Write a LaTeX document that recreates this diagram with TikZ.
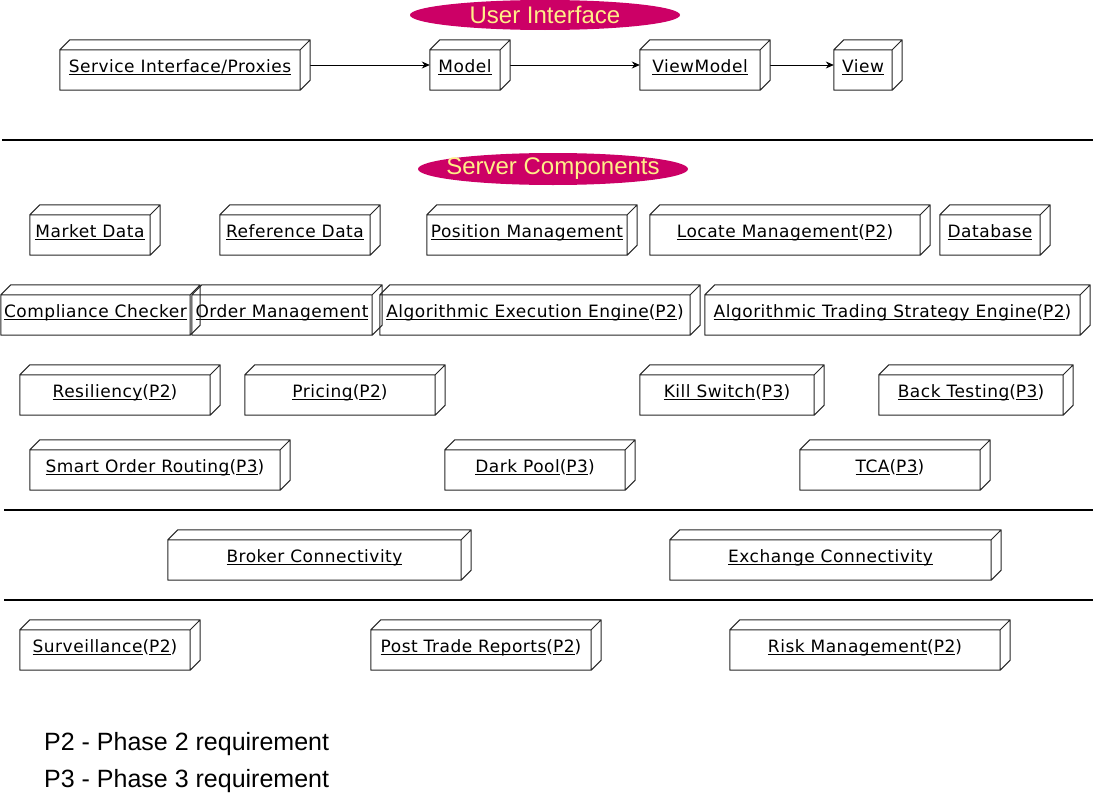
\documentclass[tikz,border=0pt]{standalone}
\usepackage{fontspec}
\setmainfont{Liberation Sans}
\newfontfamily\boxfont[LetterSpace=3]{DejaVu Sans}
\usepackage{tikz}
\usetikzlibrary{calc,shapes.geometric,arrows.meta}
\definecolor{ovalfill}{HTML}{CC0066}
\definecolor{ovaltext}{HTML}{FFEE88}
\newcommand\ulbox[1]{\setbox0=\hbox{#1}\rlap{\rule[-2.6pt]{\wd0}{0.9pt}}\box0}
\newcommand\tagged[2]{\ulbox{#1}(\ulbox{#2})}

\begin{document}
\begin{tikzpicture}[x=1pt,y=-1pt,
    unode/.style={minimum width=#1,minimum height=50,inner sep=0,
      text height=18,text depth=3,execute at end node=\hspace*{10pt},
      font=\boxfont\fontsize{17}{20}\selectfont},
    oval/.style={ellipse,fill=ovalfill,text=ovaltext,minimum width=270,
      minimum height=30,inner sep=0,font=\fontsize{24}{26}\selectfont},
    sep/.style={line width=2.5pt},
    legend/.style={anchor=west,inner sep=0,font=\fontsize{25}{27}\selectfont},
    flow/.style={-{Stealth[length=8pt,width=7pt]},line width=0.8pt}]
  \useasboundingbox (0,0) rectangle (1096,795);

  \node[oval] (ui) at (545,15) {User Interface};
  \node[unode=250] (sip) at (185,65) {\ulbox{Service Interface/Proxies}};
  \node[unode=80] (model) at (470,65) {\ulbox{Model}};
  \node[unode=130] (vm) at (705,65) {\ulbox{ViewModel}};
  \node[unode=68] (view) at (868,65) {\ulbox{View}};
  \draw[flow] (sip.east) -- (model.west);
  \draw[flow] (model.east) -- (vm.west);
  \draw[flow] (vm.east) -- (view.west);

  \draw[sep] (2,140) -- (1093,140);
  \node[oval,inner xsep=-12pt,minimum height=32] (srv) at (553,169) {Server Components};

  \node[unode=130] (mkt) at (95,230) {\ulbox{Market Data}};
  \node[unode=160] (ref) at (300,230) {\ulbox{Reference Data}};
  \node[unode=210] (pos) at (532,230) {\ulbox{Position Management}};
  \node[unode=280] (loc) at (790,230) {\tagged{Locate Management}{P2}};
  \node[unode=110] (db) at (995,230) {\ulbox{Database}};

  \node[unode=199] (comp) at (100.5,310) {\ulbox{Compliance Checker}};
  \node[unode=190] (oms) at (287,310) {\ulbox{Order Management}};
  \node[unode=320] (aee) at (540,310) {\tagged{Algorithmic Execution Engine}{P2}};
  \node[unode=385] (ate) at (897.5,310) {\tagged{Algorithmic Trading Strategy Engine}{P2}};

  \node[unode=200] (res) at (120,390) {\tagged{Resiliency}{P2}};
  \node[unode=200] (pric) at (345,390) {\tagged{Pricing}{P2}};
  \node[unode=184] (kill) at (732,390) {\tagged{Kill Switch}{P3}};
  \node[unode=194] (bt) at (976,390) {\tagged{Back Testing}{P3}};

  \node[unode=260] (sor) at (160,465) {\tagged{Smart Order Routing}{P3}};
  \node[unode=190] (dark) at (540,465) {\tagged{Dark Pool}{P3}};
  \node[unode=190] (tca) at (895,465) {\tagged{TCA}{P3}};

  \draw[sep] (4,510) -- (1093,510);
  \node[unode=303] (broker) at (319.5,555) {\ulbox{Broker Connectivity}};
  \node[unode=331] (exch) at (835.5,555) {\ulbox{Exchange Connectivity}};
  \draw[sep] (4,600) -- (1093,600);

  \node[unode=180] (surv) at (110,645) {\tagged{Surveillance}{P2}};
  \node[unode=230] (ptr) at (486,645) {\tagged{Post Trade Reports}{P2}};
  \node[unode=280] (risk) at (870,645) {\tagged{Risk Management}{P2}};

  \foreach \n in {sip,model,vm,view,mkt,ref,pos,loc,db,comp,oms,aee,ate,
      res,pric,kill,bt,sor,dark,tca,broker,exch,surv,ptr,risk}
    \draw[black!85,line width=1pt,line join=round]
      (\n.south west) rectangle ($(\n.north east)+(-10,10)$)
      ($(\n.north west)+(0,10)$) -- ++(10,-10) -- (\n.north east)
        -- ($(\n.south east)+(0,-10)$) -- ($(\n.south east)+(-10,0)$)
      ($(\n.north east)+(-10,10)$) -- (\n.north east);

  \node[legend] (p2) at (44,744) {P2 - Phase 2 requirement};
  \node[legend] (p3) at (44,781) {P3 - Phase 3 requirement};
\end{tikzpicture}
\end{document}
